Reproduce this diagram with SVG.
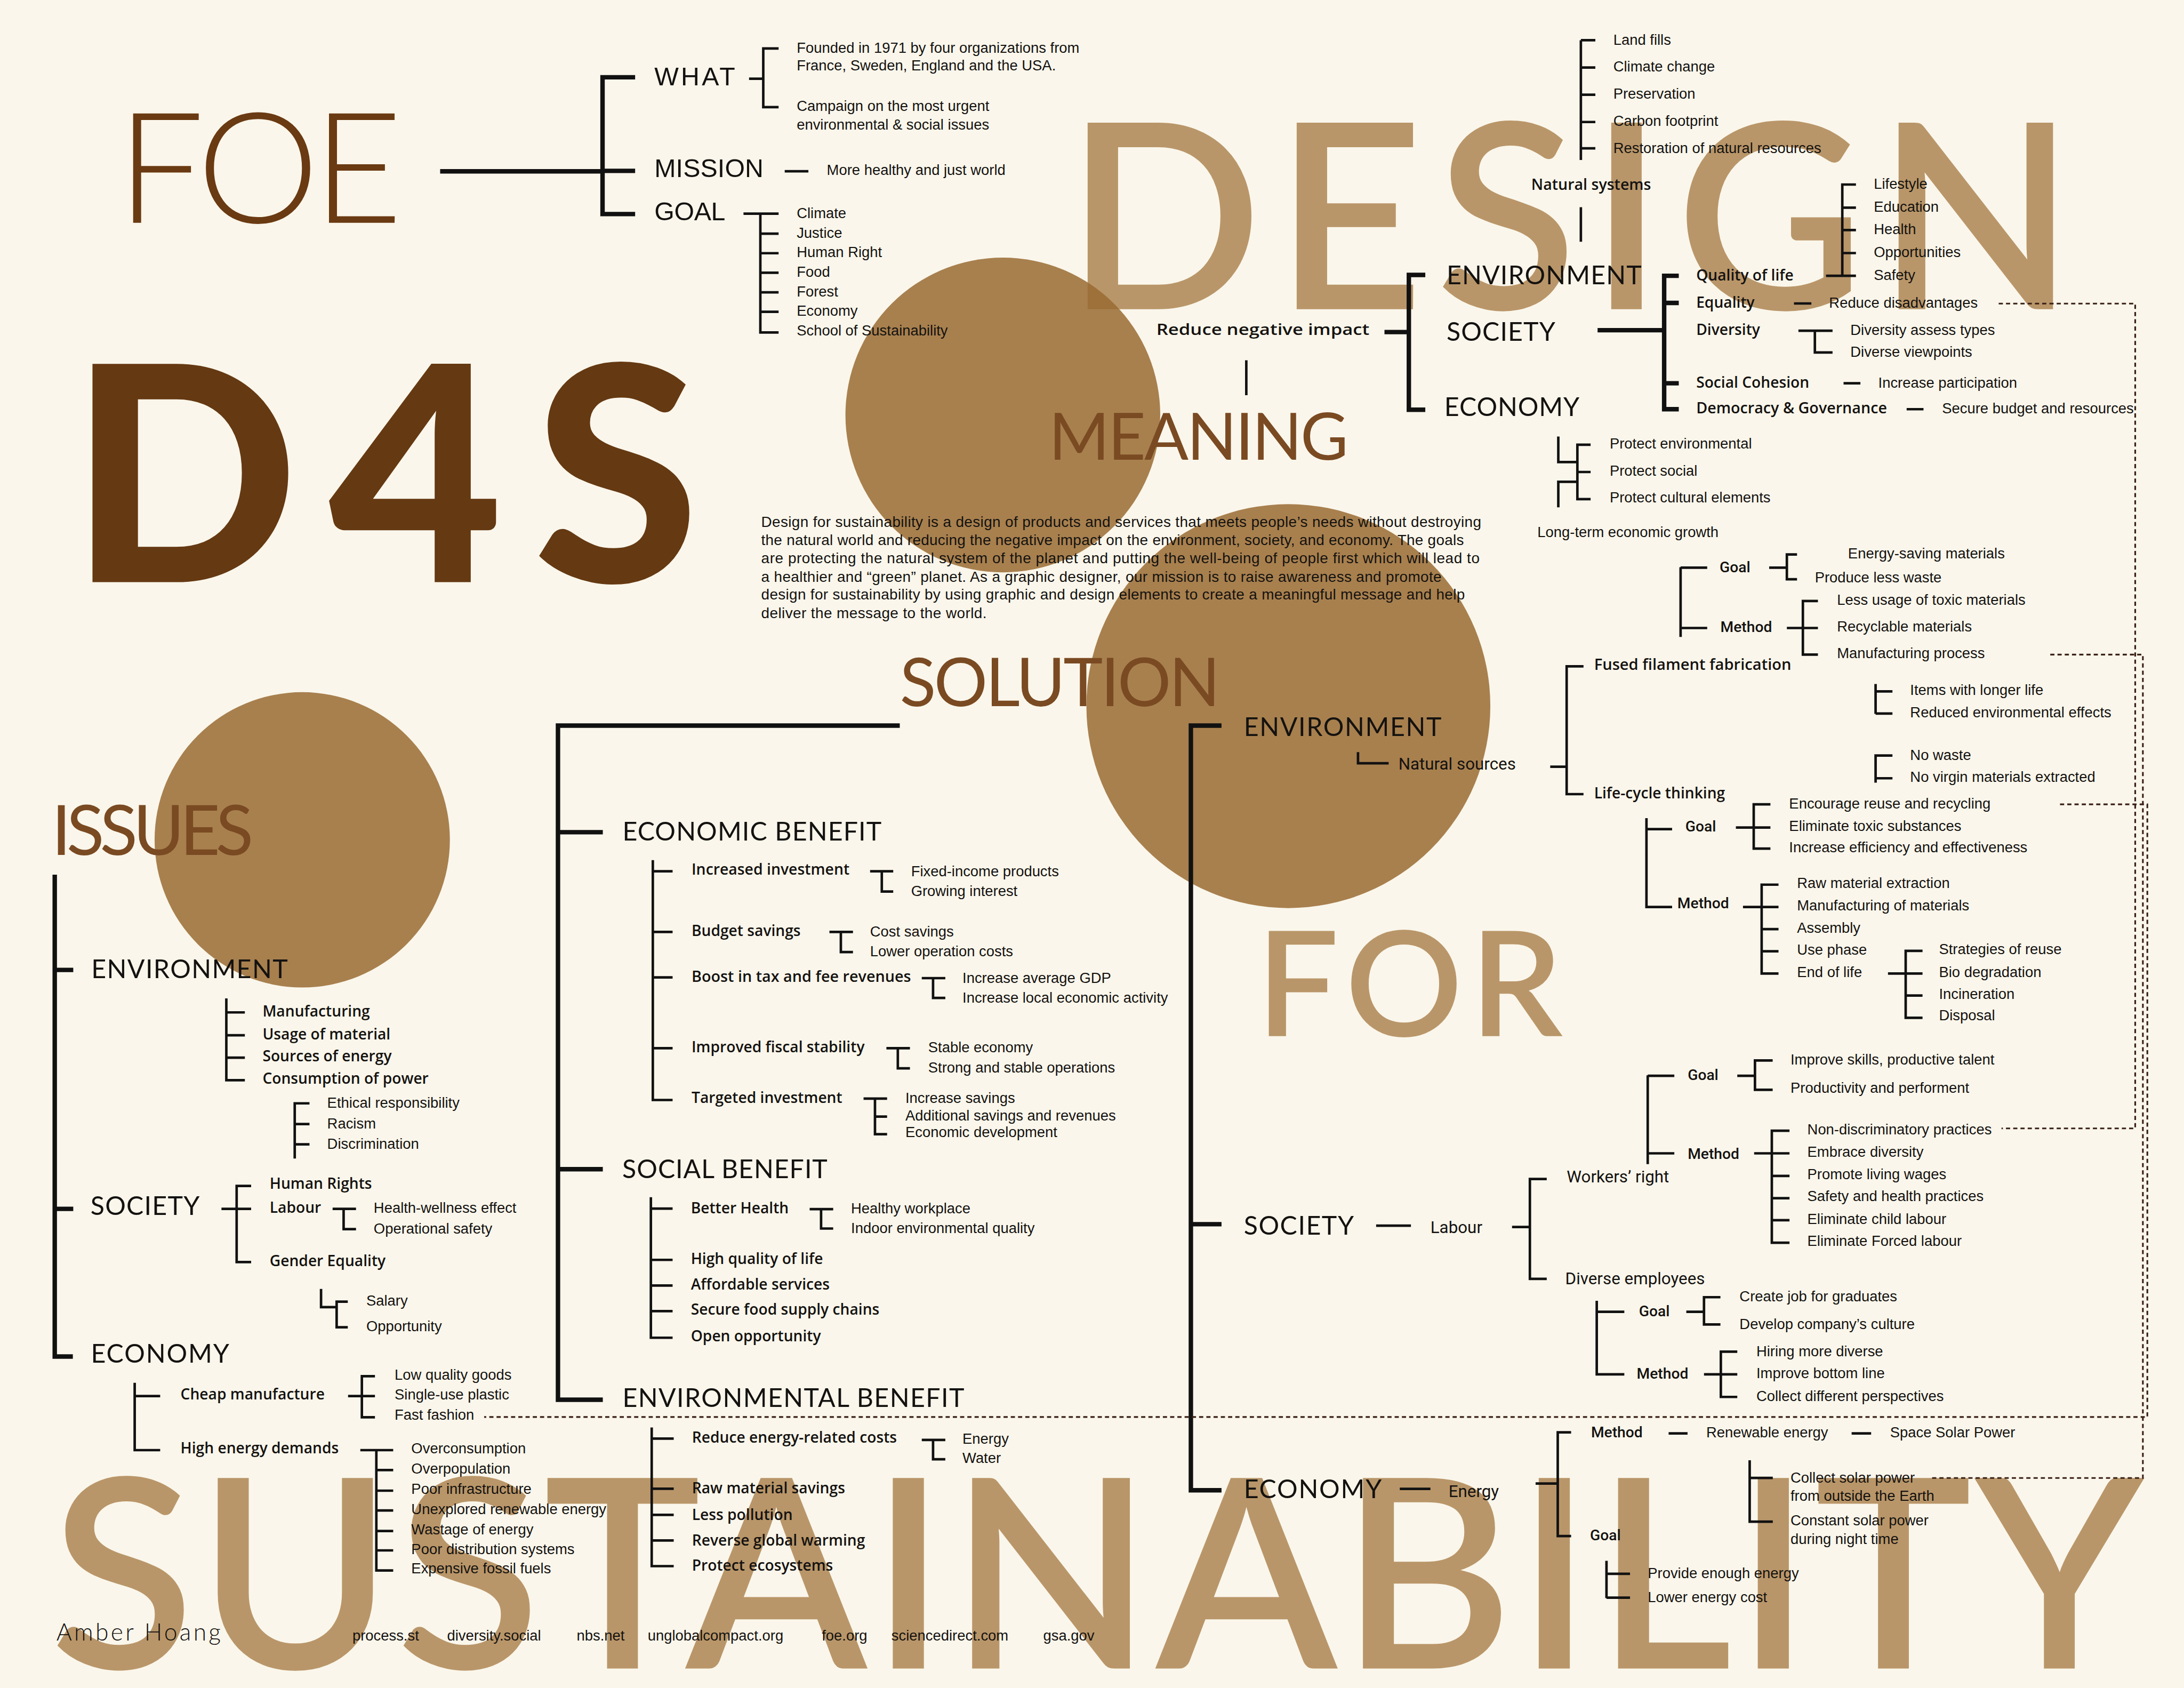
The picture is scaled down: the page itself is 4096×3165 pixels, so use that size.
<svg xmlns="http://www.w3.org/2000/svg" width="4096" height="3165" viewBox="0 0 4096 3165">
<style>
.tan{font-family:Lato,"Open Sans",sans-serif;font-weight:600;fill:#B99669}
.ttl{font-family:Lato,"Open Sans",sans-serif;fill:#7A4A22}
.t{font-family:"Liberation Sans",Arial,sans-serif;font-size:10.5px;fill:#141210}
.b{font-family:"Open Sans","Liberation Sans",sans-serif;font-weight:600;font-size:10.8px;fill:#141210}
.m{font-family:Roboto,"Liberation Sans",sans-serif;font-weight:500;font-size:10.8px;fill:#141210}
.r{font-family:Roboto,"Liberation Sans",sans-serif;font-weight:400;font-size:12px;fill:#141210}
.h{font-family:Lato,"Open Sans",sans-serif;font-size:18.5px;fill:#141210}
.hd{font-family:"Liberation Sans",Arial,sans-serif;font-size:18.5px;fill:#141210}
.p{font-family:"Liberation Sans",Arial,sans-serif;font-size:10.7px;fill:#141210}
.k{stroke:#111;fill:none;stroke-width:1.8}
.K{stroke:#111;fill:none;stroke-width:3.2}
.d{stroke:#3a2016;fill:none;stroke-width:1.2;stroke-dasharray:3 2.2}
.circ{fill:#996B32;fill-opacity:0.85}
</style>
<rect width="4096" height="3165" fill="#FAF6EB"/>
<g transform="scale(2.6122 2.6114)">
<g id="bigletters">
<text class="tan" x="765" y="222" font-size="186" textLength="725">DESIGN</text>
<text class="tan" x="902" y="744" font-size="105" textLength="220">FOR</text>
<text class="tan" x="36" y="1198" font-size="190" textLength="1503">SUSTAINABILITY</text>
</g>
<g id="circles">
<circle class="circ" cx="720" cy="298" r="113"/>
<circle class="circ" cx="925" cy="507" r="145"/>
<circle class="circ" cx="217" cy="603" r="106"/>
</g>
<g id="titles">
<text x="84" y="160" font-family="Lato,sans-serif" font-weight="300" font-size="111" fill="#6A3A12" textLength="205">FOE</text>
<text x="50" y="418" font-family="Lato,sans-serif" font-weight="900" font-size="216" fill="#653912" textLength="452">D4S</text>
<text class="ttl" x="753" y="330" font-size="47" textLength="215">MEANING</text>
<text class="ttl" x="646" y="507" font-size="48" textLength="230">SOLUTION</text>
<text class="ttl" x="37" y="614" font-size="50" textLength="145">ISSUES</text>
</g>
<g id="connectors">
<path class="K" d="M316,123 H432.6 M456,55.5 H432.6 V153.7 H456 M432.6,122.7 H456" stroke-width="3.6"/>
<path class="k" d="M537.8,56.5 H548 M559,34.8 H548 V76.9 H559 M563.4,123 H580.4"/>
<path class="k" d="M533.8,153.4 H559 M545.9,153.4 V238.7 H559 M545.9,167.8 H559 M545.9,181.8 H559 M545.9,195.8 H559 M545.9,209.9 H559 M545.9,223.9 H559"/>
<path class="k" d="M1135,28.9 V114.9 M1135,28.9 H1145.4 M1135,48.5 H1145.4 M1135,68 H1145.4 M1135,87.6 H1145.4 M1135,106.5 H1145.4"/>
<path class="k" d="M1135,148.8 V173.6 M894.8,258.7 V283.8" stroke-width="2.5"/>
<path class="K" d="M994,238.4 H1011.5 M1023.3,197.4 H1011.5 V294.2 H1023.3"/>
<path class="K" d="M1147,237.1 H1194.8 M1205.3,198 H1194.8 V293.8 H1205.3 M1194.8,217.5 H1205.3 M1194.8,275.2 H1205.3"/>
<path class="k" d="M1311,198 H1322.7 M1332.5,132.5 H1322.7 V198 H1332.5 M1322.7,149.1 H1332.5 M1322.7,165.2 H1332.5 M1322.7,181.7 H1332.5"/>
<path class="k" d="M1288,217.9 H1300.5 M1291.2,237.5 H1315.7 M1303,237.5 V253.1 H1315.7 M1323.6,275.2 H1335.7 M1368.9,293.8 H1381"/>
<path class="k" d="M1118.8,313.4 V331.8 H1132.5 M1118.8,364.3 V345.9 H1132.5 M1142,319.3 H1132.5 V358.4 H1142 M1132.5,338.9 H1142" stroke-width="2.4"/>
<path class="k" d="M1206.6,407.3 V457.3 M1206.6,407.6 H1225.7 M1206.6,450.9 H1225.7 M1270.2,407.6 H1282.9 M1290.2,398.1 H1282.9 V415.9 H1290.2 M1282.9,450.9 H1305.2 M1305.2,431.5 H1294.4 V470 H1305.2"/>
<path class="k" d="M1113,550.5 H1124.8 M1136.9,478.4 H1124.8 V570.2 H1136.9" stroke-width="2.5"/>
<path class="k" d="M1346.6,491.1 V512.6 M1346.6,496.4 H1358.7 M1346.6,512.3 H1358.7 M1358.7,542.5 H1346.6 V562 M1346.6,558.8 H1358.7"/>
<path class="k" d="M1182.1,587.4 V651.2 H1200.5 M1182.1,595.3 H1200.5 M1246.3,594.2 H1271.1 M1271.1,577.5 H1259.1 V609.3 H1271.1"/>
<path class="k" d="M1251.4,651.2 H1276.9 M1276.9,635.2 H1264.8 V699 H1276.9 M1264.8,667.1 H1276.9 M1264.8,683 H1276.9 M1355.5,699 H1380.3 M1380.3,682.7 H1368.2 V730.8 H1380.3 M1368.2,714.8 H1380.3"/>
<path class="k" d="M1085.6,881 H1098.4 M1110.5,846.5 H1098.4 V918.2 H1110.5" stroke-width="2.5"/>
<path class="k" d="M1183,772.1 V835.9 M1183,772.4 H1202.1 M1183,828.1 H1202.1 M1247.3,772.4 H1260 M1272.7,761.4 H1260 V782.5 H1272.7"/>
<path class="k" d="M1259.4,828.1 H1284.8 M1284.8,811.9 H1272.1 V892.3 H1284.8 M1272.1,844.3 H1284.8 M1272.1,860.3 H1284.8 M1272.1,876.1 H1284.8"/>
<path class="k" d="M1146.4,934 V986.8 H1166.2 M1146.4,941.9 H1166.2 M1210.7,941.9 H1223.4 M1235.2,931.4 H1223.4 V951 H1235.2 M1223.4,986.8 H1247.3 M1247.3,970.5 H1235.5 V1003 H1247.3"/>
<path class="k" d="M1102.5,1065.2 H1118.4 M1128,1028.4 H1118.4 V1102.9 H1128" stroke-width="2.5"/>
<path class="k" d="M1198,1029.2 H1211.6 M1329.4,1029.2 H1343.4 M1256.2,1048.5 V1092.6 H1272.8 M1256.2,1061.2 H1272.8 M1153.4,1120.7 V1147.5 M1153.4,1130 H1170.3 M1153.4,1147.1 H1170.3"/>
<path class="K" d="M646,521 H400.6 V1005 H432.8 M400.6,597.5 H432.8 M400.6,839.5 H432.8"/>
<path class="k" d="M468.7,617.6 V789.8 H482.9 M468.7,625.6 H482.9 M468.7,669.1 H482.9 M468.7,701.8 H482.9 M468.7,752.6 H482.9" stroke-width="2.2"/>
<path class="k" d="M624.7,625.6 H641.3 M633.1,625.6 V640.1 H641.3 M595.5,669.1 H612.4 M603.7,669.1 V683.6 H612.4 M661.8,702.3 H678.7 M669.9,702.3 V716.5 H678.7 M636.4,752.6 H653.3 M644.6,752.6 V767.1 H653.3 M620,788.8 H636.9 M628.2,788.8 V814.4 H636.9 M628.2,801.7 H636.9"/>
<path class="k" d="M467.3,859.6 V960.5 H482.9 M467.3,867.8 H482.9 M467.3,904.6 H482.9 M467.3,923 H482.9 M467.3,941.4 H482.9 M581.3,868.2 H598.2 M589.5,868.2 V882.1 H598.2" stroke-width="2.2"/>
<path class="k" d="M467.9,1024.9 V1124.5 H483.7 M467.9,1032.9 H483.7 M467.9,1068.9 H483.7 M467.9,1087.7 H483.7 M467.9,1106.1 H483.7 M661.8,1033.9 H678.7 M669.9,1033.9 V1047.8 H678.7" stroke-width="2.2"/>
<path class="K" d="M877,521 H855 V1070 H877 M855,879 H877"/>
<path class="k" d="M975,540 V548 H997 M988,880 H1013 M1005,1069 H1027" stroke-width="2.2"/>
<path class="K" d="M39.3,628 V974 H52.3 M39.3,696.4 H52.6 M39.3,868 H52.6"/>
<path class="k" d="M162.5,716.9 V775.6 H175.8 M162.5,726.9 H175.8 M162.5,743.3 H175.8 M162.5,759.4 H175.8 M222.2,792.2 H211.6 V831.8 M211.6,807.1 H222.2 M211.6,821.6 H222.2" stroke-width="2.2"/>
<path class="k" d="M159,868 H180.3 M180.3,851.5 H169.9 V906.2 H180.3 M238.8,868 H255.6 M246.7,868 V882.5 H255.6 M230.5,925.5 V938.5 H241.7 M249.7,934.6 H241.7 V953 H249.7" stroke-width="2.2"/>
<path class="k" d="M96.7,992.9 V1041.2 H115 M96.7,1002.4 H115 M249.9,1002.4 H269.2 M269.2,988.1 H259.8 V1017.6 H269.2" stroke-width="2.2"/>
<path class="k" d="M258.7,1041.2 H282.3 M270.2,1041.2 V1127.6 H282.3 M270.2,1055.5 H282.3 M270.2,1070.3 H282.3 M270.2,1084.5 H282.3 M270.2,1099.3 H282.3 M270.2,1113.2 H282.3"/>
<path class="d" d="M1435,218 H1533 V810.2 H1437"/>
<path class="d" d="M1472,470 H1538.5 V1061.2 H1385.6"/>
<path class="d" d="M1479,577.5 H1541.7 V1017.4 H347.6"/>
</g>
<g id="foe-nodes">
<g id="n-what"><text class="hd" x="469.8" y="61.3" textLength="58">WHAT</text></g>
<g id="n-mission"><text class="hd" x="469.8" y="127.1" textLength="78.4">MISSION</text></g>
<g id="n-goal"><text class="hd" x="469.8" y="158.2" textLength="51">GOAL</text></g>
<g id="n-founded"><text class="t" x="572" y="37.8">Founded in 1971 by four organizations from</text><text class="t" x="572" y="50.6">France, Sweden, England and the USA.</text></g>
<g id="n-campaign"><text class="t" x="572" y="79.5">Campaign on the most urgent</text><text class="t" x="572" y="92.9">environmental &amp; social issues</text></g>
<g id="n-healthy"><text class="t" x="593.6" y="125.7">More healthy and just world</text></g>
<g id="n-goals">
<text class="t" x="572" y="156.7">Climate</text><text class="t" x="572" y="170.7">Justice</text><text class="t" x="572" y="184.7">Human Right</text><text class="t" x="572" y="198.8">Food</text><text class="t" x="572" y="212.8">Forest</text><text class="t" x="572" y="226.8">Economy</text><text class="t" x="572" y="240.9">School of Sustainability</text>
</g>
</g>
<g id="meaning-nodes">
<g id="n-natural"><text class="t" x="1158.3" y="32.3">Land fills</text><text class="t" x="1158.3" y="51.4">Climate change</text><text class="t" x="1158.3" y="70.9">Preservation</text><text class="t" x="1158.3" y="90.5">Carbon footprint</text><text class="t" x="1158.3" y="110">Restoration of natural resources</text></g>
<g id="n-natsys"><text class="b" x="1099.4" y="136.4" textLength="86" lengthAdjust="spacingAndGlyphs">Natural systems</text></g>
<g id="n-reduce"><text class="b" x="830.2" y="240.5" font-size="12.5" textLength="153" lengthAdjust="spacingAndGlyphs">Reduce negative impact</text></g>
<g id="n-m-env"><text class="h" x="1038.6" y="204" textLength="140">ENVIRONMENT</text></g>
<g id="n-m-soc"><text class="h" x="1038.6" y="244.7" textLength="78">SOCIETY</text></g>
<g id="n-m-eco"><text class="h" x="1037" y="298.6" textLength="97">ECONOMY</text></g>
<g id="n-soclabels">
<text class="b" x="1217.8" y="201.5" font-size="11.2">Quality of life</text><text class="b" x="1217.8" y="221" font-size="11.2">Equality</text><text class="b" x="1217.8" y="240.6" font-size="11.2">Diversity</text><text class="b" x="1217.8" y="278.5" font-size="11.2">Social Cohesion</text><text class="b" x="1217.8" y="296.7" font-size="11.2" textLength="137" lengthAdjust="spacingAndGlyphs">Democracy &amp; Governance</text>
</g>
<g id="n-quality"><text class="t" x="1345.3" y="135.4">Lifestyle</text><text class="t" x="1345.3" y="152">Education</text><text class="t" x="1345.3" y="168.3">Health</text><text class="t" x="1345.3" y="184.7">Opportunities</text><text class="t" x="1345.3" y="200.9">Safety</text></g>
<g id="n-disadv"><text class="t" x="1313.2" y="221">Reduce disadvantages</text></g>
<g id="n-divers"><text class="t" x="1328.5" y="240.6">Diversity assess types</text><text class="t" x="1328.5" y="256.2">Diverse viewpoints</text></g>
<g id="n-particip"><text class="t" x="1348.5" y="278.5">Increase participation</text></g>
<g id="n-budget"><text class="t" x="1394.3" y="296.7">Secure budget and resources</text></g>
<g id="n-protect"><text class="t" x="1155.7" y="322.2">Protect environmental</text><text class="t" x="1155.7" y="341.4">Protect social</text><text class="t" x="1155.7" y="360.6">Protect cultural elements</text></g>
<g id="n-longterm"><text class="t" x="1103.8" y="385.7">Long-term economic growth</text></g>
<g id="n-paragraph">
<text class="p" x="546.5" y="378.4" textLength="517">Design for sustainability is a design of products and services that meets people’s needs without destroying</text>
<text class="p" x="546.5" y="391.4" textLength="504.5">the natural world and reducing the negative impact on the environment, society, and economy. The goals</text>
<text class="p" x="546.5" y="404.5" textLength="515.8">are protecting the natural system of the planet and putting the well-being of people first which will lead to</text>
<text class="p" x="546.5" y="417.6" textLength="488.5">a healthier and “green” planet. As a graphic designer, our mission is to raise awareness and promote</text>
<text class="p" x="546.5" y="430.6" textLength="505.2">design for sustainability by using graphic and design elements to create a meaningful message and help</text>
<text class="p" x="546.5" y="443.7" textLength="161.9">deliver the message to the world.</text>
</g>
</g>
<g id="solution-right">
<g id="n-s-env"><text class="h" x="893" y="528.5" font-size="18" textLength="142">ENVIRONMENT</text></g>
<g id="n-s-soc"><text class="h" x="893" y="886.5" font-size="18" textLength="79">SOCIETY</text></g>
<g id="n-s-eco"><text class="h" x="893" y="1075.5" font-size="18" textLength="99">ECONOMY</text></g>
<g id="n-natsrc"><text class="r" x="1004" y="552.5" font-size="12.5">Natural sources</text></g>
<g id="n-labour"><text class="r" x="1027" y="885.5" font-size="12.5">Labour</text></g>
<g id="n-energy"><text class="r" x="1040" y="1075" font-size="12.5">Energy</text></g>
<g id="n-goal1"><text class="m" x="1234.6" y="410.8">Goal</text></g>
<g id="n-method1"><text class="m" x="1235.2" y="453.8">Method</text></g>
<g id="n-goal1i"><text class="t" x="1326.8" y="400.9">Energy-saving materials</text><text class="t" x="1303" y="418">Produce less waste</text></g>
<g id="n-method1i"><text class="t" x="1318.9" y="434.3">Less usage of toxic materials</text><text class="t" x="1318.9" y="453.4">Recyclable materials</text><text class="t" x="1318.9" y="472.5">Manufacturing process</text></g>
<g id="n-fused"><text class="b" x="1144.5" y="481.1" textLength="141.6" lengthAdjust="spacingAndGlyphs">Fused filament fabrication</text></g>
<g id="n-lifecycle"><text class="b" x="1144.5" y="573.4">Life-cycle thinking</text></g>
<g id="n-items"><text class="t" x="1371.4" y="499.1">Items with longer life</text><text class="t" x="1371.4" y="515">Reduced environmental effects</text></g>
<g id="n-nowaste"><text class="t" x="1371.4" y="545.7">No waste</text><text class="t" x="1371.4" y="561.2">No virgin materials extracted</text></g>
<g id="n-goal2"><text class="m" x="1210" y="597">Goal</text></g>
<g id="n-method2"><text class="m" x="1204.3" y="652.1">Method</text></g>
<g id="n-goal2i"><text class="t" x="1284.5" y="580.7">Encourage reuse and recycling</text><text class="t" x="1284.5" y="596.6">Eliminate toxic substances</text><text class="t" x="1284.5" y="612">Increase efficiency and effectiveness</text></g>
<g id="n-method2i"><text class="t" x="1290.2" y="637.7">Raw material extraction</text><text class="t" x="1290.2" y="653.7">Manufacturing of materials</text><text class="t" x="1290.2" y="669.6">Assembly</text><text class="t" x="1290.2" y="685.5">Use phase</text><text class="t" x="1290.2" y="701.5">End of life</text></g>
<g id="n-endlife"><text class="t" x="1392.1" y="685.2">Strategies of reuse</text><text class="t" x="1392.1" y="701.5">Bio degradation</text><text class="t" x="1392.1" y="717.1">Incineration</text><text class="t" x="1392.1" y="732.7">Disposal</text></g>
<g id="n-workers"><text class="r" x="1124.8" y="848.9" font-size="11.8">Workers’ right</text></g>
<g id="n-diverse"><text class="r" x="1123.8" y="922.1" font-size="11.8">Diverse employees</text></g>
<g id="n-goal3"><text class="m" x="1211.7" y="775.3">Goal</text></g>
<g id="n-method3"><text class="m" x="1211.7" y="832">Method</text></g>
<g id="n-goal3i"><text class="t" x="1285.5" y="764.4">Improve skills, productive talent</text><text class="t" x="1285.5" y="784.7">Productivity and performent</text></g>
<g id="n-method3i"><text class="t" x="1297.6" y="814.5">Non-discriminatory practices</text><text class="t" x="1297.6" y="830.7">Embrace diversity</text><text class="t" x="1297.6" y="846.5">Promote living wages</text><text class="t" x="1297.6" y="862.5">Safety and health practices</text><text class="t" x="1297.6" y="878.7">Eliminate child labour</text><text class="t" x="1297.6" y="894.5">Eliminate Forced labour</text></g>
<g id="n-goal4"><text class="m" x="1176.7" y="945.1">Goal</text></g>
<g id="n-method4"><text class="m" x="1175.1" y="990">Method</text></g>
<g id="n-goal4i"><text class="t" x="1248.9" y="934.3">Create job for graduates</text><text class="t" x="1248.9" y="954.1">Develop company’s culture</text></g>
<g id="n-method4i"><text class="t" x="1261" y="973.7">Hiring more diverse</text><text class="t" x="1261" y="989.6">Improve bottom line</text><text class="t" x="1261" y="1005.9">Collect different perspectives</text></g>
<g id="n-method5"><text class="m" x="1142.3" y="1032.1">Method</text></g>
<g id="n-renew"><text class="t" x="1225" y="1032.1">Renewable energy</text></g>
<g id="n-space"><text class="t" x="1357" y="1032.1">Space Solar Power</text></g>
<g id="n-solar"><text class="t" x="1285.5" y="1064.4">Collect solar power</text><text class="t" x="1285.5" y="1077.4">from outside the Earth</text><text class="t" x="1285.5" y="1095.3">Constant solar power</text><text class="t" x="1285.5" y="1108.5">during night time</text></g>
<g id="n-goal5"><text class="m" x="1141.6" y="1106.1">Goal</text></g>
<g id="n-goal5i"><text class="t" x="1183" y="1133.1">Provide enough energy</text><text class="t" x="1183" y="1150.3">Lower energy cost</text></g>
</g>
<g id="solution-left">
<g id="n-ecoben"><text class="h" x="446.9" y="603.4" font-size="17.8" textLength="186">ECONOMIC BENEFIT</text></g>
<g id="n-socben"><text class="h" x="446.8" y="845.9" font-size="17.8" textLength="147.3">SOCIAL BENEFIT</text></g>
<g id="n-envben"><text class="h" x="446.9" y="1010" font-size="17.8" textLength="245.4">ENVIRONMENTAL BENEFIT</text></g>
<g id="n-ecolabels"><text class="b" x="496.5" y="628.2" textLength="113.4" lengthAdjust="spacingAndGlyphs">Increased investment</text><text class="b" x="496.5" y="672.2">Budget savings</text><text class="b" x="496.5" y="704.9" textLength="157.6" lengthAdjust="spacingAndGlyphs">Boost in tax and fee revenues</text><text class="b" x="496.5" y="755.7">Improved fiscal stability</text><text class="b" x="496.5" y="791.9">Targeted investment</text></g>
<g id="n-inv"><text class="t" x="654.1" y="629">Fixed-income products</text><text class="t" x="654.1" y="643.5">Growing interest</text></g>
<g id="n-bud"><text class="t" x="624.7" y="672.5">Cost savings</text><text class="t" x="624.7" y="686.7">Lower operation costs</text></g>
<g id="n-boost"><text class="t" x="691" y="705.8">Increase average GDP</text><text class="t" x="691" y="719.9">Increase local economic activity</text></g>
<g id="n-fiscal"><text class="t" x="666.4" y="755.7">Stable economy</text><text class="t" x="666.4" y="770">Strong and stable operations</text></g>
<g id="n-target"><text class="t" x="650" y="791.9">Increase savings</text><text class="t" x="650" y="804.6">Additional savings and revenues</text><text class="t" x="650" y="816.6">Economic development</text></g>
<g id="n-soclist"><text class="b" x="496" y="871.3">Better Health</text><text class="b" x="496" y="907.7">High quality of life</text><text class="b" x="496" y="926.1">Affordable services</text><text class="b" x="496" y="944.1">Secure food supply chains</text><text class="b" x="496" y="962.9">Open opportunity</text></g>
<g id="n-health"><text class="t" x="611" y="871.3">Healthy workplace</text><text class="t" x="611" y="885.2">Indoor environmental quality</text></g>
<g id="n-envlist"><text class="b" x="496.8" y="1036">Reduce energy-related costs</text><text class="b" x="496.8" y="1072.4">Raw material savings</text><text class="b" x="496.8" y="1091.2">Less pollution</text><text class="b" x="496.8" y="1109.6">Reverse global warming</text><text class="b" x="496.8" y="1127.6">Protect ecosystems</text></g>
<g id="n-energywater"><text class="t" x="691" y="1036.6">Energy</text><text class="t" x="691" y="1050.5">Water</text></g>
</g>
<g id="issues">
<g id="n-i-env"><text class="h" x="65.6" y="702.2" font-size="18" textLength="141">ENVIRONMENT</text></g>
<g id="n-i-soc"><text class="h" x="65" y="872.4" font-size="18" textLength="78.3">SOCIETY</text></g>
<g id="n-i-eco"><text class="h" x="65.3" y="978.5" font-size="18" textLength="99.3">ECONOMY</text></g>
<g id="n-i-envlist"><text class="b" x="188.5" y="729.8" font-size="11">Manufacturing</text><text class="b" x="188.5" y="746.2" font-size="11">Usage of material</text><text class="b" x="188.5" y="762.1" font-size="11">Sources of energy</text><text class="b" x="188.5" y="778.1" font-size="11">Consumption of power</text></g>
<g id="n-ethical"><text class="t" x="234.9" y="795.5">Ethical responsibility</text><text class="t" x="234.9" y="810.4">Racism</text><text class="t" x="234.9" y="824.9">Discrimination</text></g>
<g id="n-i-soclist"><text class="b" x="193.6" y="853.5" font-size="11">Human Rights</text><text class="b" x="193.6" y="870.8" font-size="11">Labour</text><text class="b" x="193.6" y="909.1" font-size="11">Gender Equality</text></g>
<g id="n-i-labour"><text class="t" x="268.3" y="870.8">Health-wellness effect</text><text class="t" x="268.3" y="885.7">Operational safety</text></g>
<g id="n-salary"><text class="t" x="263" y="937.5">Salary</text><text class="t" x="263" y="955.9">Opportunity</text></g>
<g id="n-cheap"><text class="b" x="129.6" y="1005" font-size="11">Cheap manufacture</text></g>
<g id="n-high"><text class="b" x="129.6" y="1043.4" font-size="11">High energy demands</text></g>
<g id="n-cheapi"><text class="t" x="283.3" y="990.6">Low quality goods</text><text class="t" x="283.3" y="1005">Single-use plastic</text><text class="t" x="283.3" y="1019.5">Fast fashion</text></g>
<g id="n-highi"><text class="t" x="295.3" y="1043.4">Overconsumption</text><text class="t" x="295.3" y="1058.2">Overpopulation</text><text class="t" x="295.3" y="1072.7">Poor infrastructure</text><text class="t" x="295.3" y="1087">Unexplored renewable energy</text><text class="t" x="295.3" y="1101.8">Wastage of energy</text><text class="t" x="295.3" y="1115.8">Poor distribution systems</text><text class="t" x="295.3" y="1129.8">Expensive fossil fuels</text></g>
</g>
<g id="footer">
<text x="40.5" y="1178" font-family="Lato,sans-serif" font-weight="300" font-size="17" fill="#141210" textLength="118">Amber Hoang</text>
<text class="t" x="253" y="1178" font-size="12">process.st</text>
<text class="t" x="321" y="1178" font-size="12">diversity.social</text>
<text class="t" x="414" y="1178" font-size="12">nbs.net</text>
<text class="t" x="465" y="1178" font-size="12">unglobalcompact.org</text>
<text class="t" x="590" y="1178" font-size="12">foe.org</text>
<text class="t" x="640" y="1178" font-size="12">sciencedirect.com</text>
<text class="t" x="749" y="1178" font-size="12">gsa.gov</text>
</g>
</g>
</svg>
